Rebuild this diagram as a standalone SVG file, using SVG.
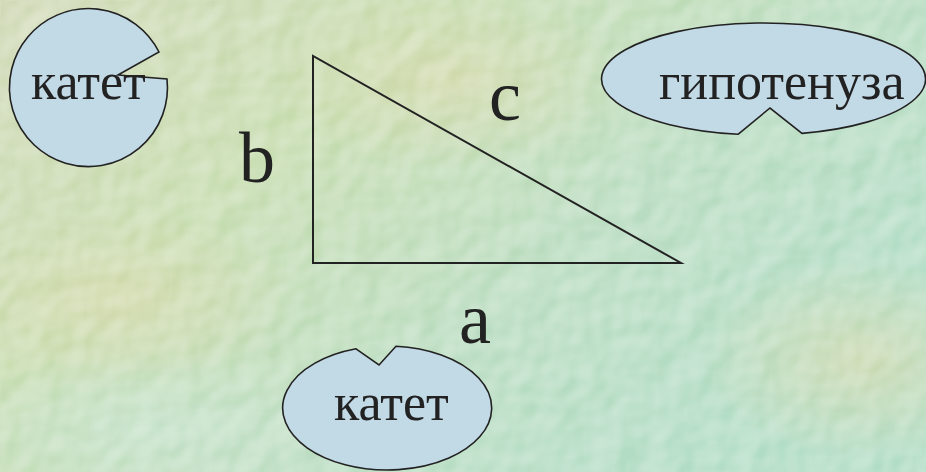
<svg xmlns="http://www.w3.org/2000/svg" width="926" height="472" viewBox="0 0 926 472">
<defs>
<linearGradient id="bg" x1="0" y1="0" x2="1" y2="0.6">
<stop offset="0" stop-color="#cfd8b4"/>
<stop offset="0.35" stop-color="#c6dcae"/>
<stop offset="0.7" stop-color="#b8dcc0"/>
<stop offset="1" stop-color="#b0dcc4"/>
</linearGradient>
<radialGradient id="y1" cx="0.5" cy="0.5" r="0.5">
<stop offset="0" stop-color="#d6d8a8" stop-opacity="0.7"/>
<stop offset="1" stop-color="#d6d8a8" stop-opacity="0"/>
</radialGradient>
<radialGradient id="g1" cx="0.5" cy="0.5" r="0.5">
<stop offset="0" stop-color="#c4e2cc" stop-opacity="0.8"/>
<stop offset="1" stop-color="#c4e2cc" stop-opacity="0"/>
</radialGradient>
<filter id="tex" x="0" y="0" width="100%" height="100%">
<feTurbulence type="fractalNoise" baseFrequency="0.035" numOctaves="2" seed="4" result="n"/>
<feDiffuseLighting in="n" surfaceScale="4" lighting-color="#ffffff" result="l">
<feDistantLight azimuth="225" elevation="50"/>
</feDiffuseLighting>
<feColorMatrix in="l" type="matrix" values="0 0 0 0 1  0 0 0 0 1  0 0 0 0 1  1.4 0 0 0 -0.8"/>
</filter>
<style>
.co{fill:#c2d9e6;stroke:#222;stroke-width:1.6;stroke-linejoin:miter}
.lbl{font-family:"Liberation Serif","Times New Roman",serif;font-size:52px;fill:#222}
.let{font-family:"Liberation Serif","Times New Roman",serif;font-size:72px;fill:#222}
.edge{fill:none;stroke:#222;stroke-width:2}
</style>
</defs>
<rect width="926" height="472" fill="url(#bg)"/>
<ellipse cx="120" cy="300" rx="180" ry="90" fill="url(#y1)"/>
<ellipse cx="860" cy="360" rx="160" ry="100" fill="url(#y1)"/>
<ellipse cx="450" cy="80" rx="180" ry="90" fill="url(#y1)"/>
<ellipse cx="160" cy="430" rx="220" ry="80" fill="url(#g1)"/>
<rect width="926" height="472" filter="url(#tex)" opacity="0.6"/>
<g id="triangle">
<path class="edge" d="M313,56 L313,263 L681,263 Z"/>
<text class="let" x="239" y="182">b</text>
<text class="let" x="489" y="120">c</text>
<text class="let" x="459" y="343">a</text>
</g>
<g id="callout-leg-left">
<path class="co" d="M167,79 A79,79 0 1 1 159,52 L118,75 Z"/>
<text class="lbl" x="31" y="99">катет</text>
</g>
<g id="callout-hypotenuse">
<path class="co" d="M738,134.3 L770,108 L802,133.4 A162,56 0 1 0 738,134.3 Z"/>
<text class="lbl" x="659" y="99">гипотенуза</text>
</g>
<g id="callout-leg-bottom">
<path class="co" d="M356,348.8 L379,365 L396,346.2 A104.5,62 0 1 1 356,348.8 Z"/>
<text class="lbl" x="334" y="420">катет</text>
</g>
<g id="connectors"/>
</svg>
